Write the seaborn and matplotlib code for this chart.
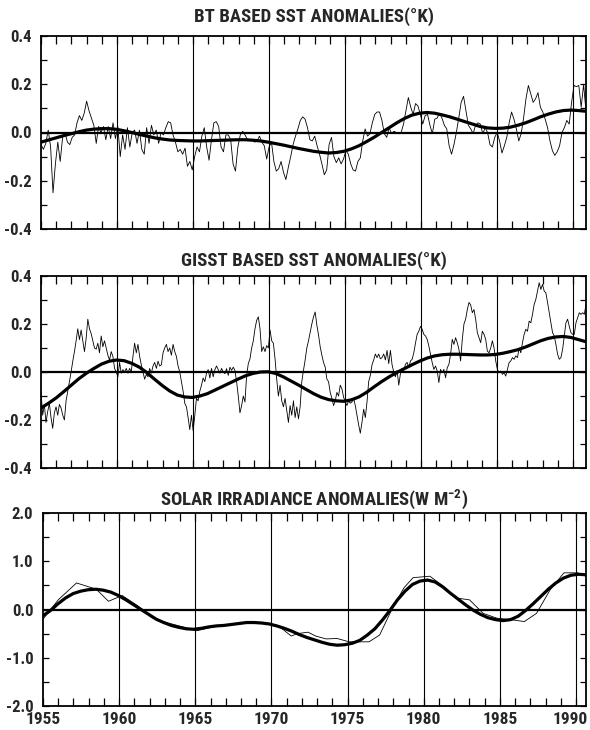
import numpy as np
import pandas as pd
import matplotlib
matplotlib.use("Agg")
import matplotlib.pyplot as plt
from matplotlib import font_manager
from matplotlib.ticker import MultipleLocator, FormatStrFormatter
from matplotlib.transforms import ScaledTranslation
import seaborn as sns

# ---------------------------------------------------------------- data
# BT based SST anomalies (K), roughly bimonthly from 1955 to the end of 1990
bt_sst = [
    -0.05, -0.07, -0.045, 0.01, -0.06, -0.25, -0.13, -0.04, -0.12, -0.02,
    0.0, -0.04, -0.05, -0.02, -0.01, 0.04, 0.07, 0.05, 0.08, 0.13,
    0.09, 0.06, 0.03, -0.045, 0.025, 0.0, 0.025, -0.03, 0.025, -0.025,
    0.04, -0.025, 0.025, -0.1, -0.01, -0.07, 0.02, -0.06, 0.0, 0.01,
    -0.045, 0.01, -0.07, -0.09, 0.02, -0.045, 0.03, -0.01, 0.01, -0.045,
    0.0, -0.01, 0.02, 0.045, 0.04, -0.01, -0.04, -0.08, -0.07, -0.09,
    -0.065, -0.14, -0.12, -0.155, -0.1, -0.06, -0.08, -0.015, 0.02, -0.06,
    -0.115, -0.03, 0.04, 0.045, 0.025,
    -0.06, -0.08, -0.01, -0.01, -0.03, -0.13, -0.16, -0.06, -0.01, 0.005,
    -0.01, -0.03, -0.03, -0.03, -0.04, -0.035, -0.015, -0.04, -0.055, -0.11,
    -0.06, -0.04, -0.12, -0.16, -0.15, -0.12, -0.165, -0.195, -0.145, -0.1,
    -0.05, -0.015, 0.015, 0.05, 0.065, 0.055, 0.02, -0.03, -0.035, -0.015,
    -0.055, -0.09, -0.13, -0.175, -0.155, -0.05, -0.02, -0.1, -0.125, -0.105,
    -0.13, -0.11, -0.075, -0.09, -0.13, -0.155, -0.16, -0.12, -0.105, -0.035,
    0.015, -0.015, -0.005, 0.04, 0.075, 0.085, 0.085, 0.05, -0.005, -0.02,
    0.02, -0.005, 0.005,
    0.0, -0.005, 0.0, 0.035, 0.09, 0.145, 0.105, 0.075, 0.12, 0.11,
    0.075, 0.035, 0.07, 0.075, 0.03, -0.005, 0.055, 0.06, 0.08, 0.06,
    0.03, 0.015, -0.055, -0.09, -0.05, 0.0, 0.06, 0.125, 0.15, 0.09,
    0.03, 0.015, -0.005, 0.03, 0.04, 0.035, -0.005, 0.02, 0.0, -0.05,
    -0.06, -0.02, 0.0, -0.035, -0.085, -0.055, -0.02, 0.04, 0.085, 0.055,
    0.015, -0.035, -0.005, 0.06, 0.14, 0.195, 0.16, 0.125, 0.14, 0.165,
    0.105, 0.085, 0.055, 0.02, -0.035, -0.075, -0.095, -0.08, -0.055, 0.0,
    0.02, 0.05, 0.035, 0.125, 0.195, 0.19, 0.195, 0.105, 0.2, 0.085,
]

# low-pass filtered BT anomalies, half-yearly
bt_smooth = [
    -0.04, -0.031, -0.022, -0.013, -0.005, 0.003, 0.01, 0.014, 0.016, 0.016,
    0.013, 0.007, 0.0, -0.008, -0.015, -0.022, -0.027, -0.031, -0.033, -0.034,
    -0.035, -0.035, -0.034, -0.033, -0.032, -0.031, -0.03, -0.03, -0.032, -0.035,
    -0.04, -0.046, -0.052, -0.059, -0.066, -0.072, -0.078, -0.082, -0.085, -0.083,
    -0.078, -0.068, -0.055, -0.038, -0.02, 0.0, 0.02, 0.04, 0.058, 0.072,
    0.08, 0.083, 0.08, 0.073, 0.065, 0.055, 0.045, 0.035, 0.025, 0.019,
    0.017, 0.018, 0.022, 0.03, 0.04, 0.052, 0.065, 0.076, 0.085, 0.091,
    0.093, 0.091, 0.088,
]

# GISST based SST anomalies (K), roughly every 40 days
gisst_sst = [
    -0.08, -0.18, -0.135, -0.21, -0.165, -0.13, -0.19, -0.235, -0.17, -0.145,
    -0.18, -0.135, -0.15, -0.18, -0.2, -0.12, -0.08, -0.04, 0.0, 0.045,
    0.085, 0.13, 0.18, 0.135, 0.175, 0.13, 0.085, 0.14, 0.22, 0.18,
    0.16, 0.13, 0.1, 0.095, 0.12, 0.08, 0.15, 0.105, 0.13, 0.1,
    0.07, 0.05, 0.085, 0.065, 0.015, 0.0, -0.02, 0.04, -0.005, 0.01,
    0.0, 0.015, -0.005, 0.015, 0.0, 0.065, 0.12, 0.08, 0.115, 0.065,
    0.03, 0.0, -0.03, -0.01, -0.02, 0.015, -0.005, 0.025, 0.04, 0.015,
    0.045, 0.025, 0.03, 0.08, 0.1, 0.115, 0.085, 0.1, 0.07, 0.115,
    0.085, 0.065, 0.025, 0.0, -0.04, -0.08, -0.13, -0.145, -0.19, -0.24,
    -0.18, -0.245, -0.18, -0.11, -0.12, -0.08, -0.055, -0.025, -0.04, -0.005,
    0.01, -0.025, 0.015, -0.02, 0.01, 0.025, 0.01, -0.005, 0.015, 0.0,
    -0.007, 0.014, -0.014, 0.02, 0.007, 0.02, 0.007, -0.04, -0.1, -0.17,
    -0.14, -0.1, -0.125, -0.014, 0.035, 0.055, 0.1, 0.13, 0.18, 0.215,
    0.23, 0.18, 0.085, 0.105, 0.085, 0.11, 0.1, 0.175, 0.13, 0.12,
    0.055, -0.03, -0.1, -0.055, -0.12, -0.145, -0.11, -0.16, -0.21, -0.14,
    -0.18, -0.12, -0.19, -0.145, -0.195, -0.145, -0.04, 0.007, 0.05, 0.1,
    0.13, 0.165, 0.2, 0.23, 0.25, 0.195, 0.155, 0.105, 0.07, 0.04,
    0.02, -0.03, -0.04, -0.085, -0.11, -0.14, -0.12, -0.085, -0.1, -0.055,
    -0.07, -0.105, -0.125, -0.14, -0.12, -0.13, -0.125, -0.11, -0.14, -0.18,
    -0.22, -0.255, -0.21, -0.155, -0.19, -0.125, -0.04, -0.014, 0.03, 0.05,
    0.075, 0.06, 0.075, 0.055, 0.06, 0.075, 0.05, 0.09, 0.035, 0.09,
    0.03, 0.0, -0.02, 0.007, -0.055, -0.007, 0.014, 0.007,
    0.032, 0.04, 0.018, 0.046, 0.053, 0.08, 0.12, 0.157, 0.17, 0.19,
    0.178, 0.157, 0.15, 0.136, 0.108, 0.074, 0.039, 0.011, 0.025, 0.004,
    -0.044, 0.011, -0.003, 0.011, -0.024, 0.018, 0.032, 0.074, 0.136, 0.115,
    0.143, 0.122, 0.094, 0.046, 0.136, 0.2, 0.22, 0.26, 0.29, 0.28,
    0.247, 0.26, 0.22, 0.164, 0.143, 0.122, 0.17, 0.157, 0.136, 0.087,
    0.08, 0.1, 0.13, 0.1, 0.046, 0.011, -0.003, 0.004, -0.01, -0.003,
    -0.017, 0.011, 0.039, 0.046, 0.06, 0.053, 0.067, 0.06, 0.1, 0.08,
    0.122, 0.157, 0.178, 0.17, 0.212, 0.205, 0.24, 0.282, 0.303, 0.337,
    0.372, 0.344, 0.365, 0.337, 0.33, 0.29, 0.247, 0.205, 0.164, 0.15,
    0.115, 0.074, 0.053, 0.06, 0.094, 0.15, 0.205, 0.22, 0.19, 0.164,
    0.157, 0.157, 0.205, 0.226, 0.247, 0.24, 0.247, 0.24, 0.282,
]

# low-pass filtered GISST anomalies, half-yearly
gisst_smooth = [
    -0.15, -0.13, -0.108, -0.082, -0.055, -0.028, -0.005, 0.015, 0.033, 0.045,
    0.05, 0.047, 0.036, 0.02, -0.003, -0.03, -0.056, -0.079, -0.096, -0.104,
    -0.106, -0.1, -0.09, -0.075, -0.06, -0.045, -0.03, -0.016, -0.006, 0.0,
    0.001, -0.006, -0.02, -0.037, -0.054, -0.072, -0.09, -0.105, -0.115, -0.12,
    -0.122, -0.116, -0.104, -0.085, -0.062, -0.04, -0.02, -0.002, 0.014, 0.03,
    0.045, 0.058, 0.067, 0.072, 0.074, 0.074, 0.073, 0.072, 0.071, 0.071,
    0.073, 0.078, 0.085, 0.093, 0.104, 0.117, 0.13, 0.14, 0.146, 0.148,
    0.144, 0.135, 0.126,
]

# solar irradiance anomalies (W m-2)
solar_years = [
    1955.0, 1956.0, 1957.2, 1958.5, 1959.3, 1960.2, 1961.2, 1962.1, 1963.1, 1964.3,
    1965.1, 1966.2, 1967.3, 1968.6, 1969.8, 1970.5, 1971.3, 1971.7, 1972.4, 1972.9,
    1973.6, 1974.3, 1975.1, 1976.4, 1977.1, 1977.9, 1978.7, 1979.3, 1980.4, 1981.2,
    1982.1, 1983.0, 1983.9, 1984.8, 1985.7, 1986.6, 1987.4, 1988.3, 1989.2, 1990.1,
    1990.65,
]
solar_values = [
    -0.2, 0.2, 0.55, 0.42, 0.17, 0.29, 0.08, -0.16, -0.27, -0.37,
    -0.44, -0.36, -0.32, -0.27, -0.29, -0.35, -0.55, -0.5, -0.47, -0.55,
    -0.61, -0.6, -0.67, -0.67, -0.53, 0.0, 0.45, 0.66, 0.69, 0.5,
    0.24, 0.2, -0.08, -0.18, -0.21, -0.25, -0.08, 0.41, 0.76, 0.76,
    0.69,
]

# low-pass filtered solar anomalies, half-yearly
solar_smooth = [
    -0.13, -0.02, 0.12, 0.24, 0.33, 0.38, 0.41, 0.42, 0.4, 0.36,
    0.29, 0.2, 0.1, 0.0, -0.1, -0.2, -0.27, -0.33, -0.37, -0.4,
    -0.41, -0.39, -0.36, -0.34, -0.33, -0.31, -0.29, -0.27, -0.27, -0.28,
    -0.3, -0.34, -0.39, -0.45, -0.52, -0.58, -0.63, -0.68, -0.72, -0.74,
    -0.73, -0.7, -0.64, -0.53, -0.4, -0.22, -0.02, 0.2, 0.38, 0.52,
    0.59, 0.61, 0.57, 0.47, 0.34, 0.22, 0.1, -0.01, -0.1, -0.17,
    -0.21, -0.23, -0.21, -0.14, -0.02, 0.12, 0.27, 0.42, 0.55, 0.65,
    0.71, 0.73, 0.72,
]

titles = [
    "BT BASED SST ANOMALIES(\u00b0K)",
    "GISST BASED SST ANOMALIES(\u00b0K)",
    r"SOLAR IRRADIANCE ANOMALIES(W M$^{\mathbf{-2}}$)",
]
year_start, year_end = 1955.0, 1990.85
year_ticks = [1955, 1960, 1965, 1970, 1975, 1980, 1985, 1990]

# ---------------------------------------------------------------- style
sns.set_theme(style="ticks")


def pick_narrow_font():
    """Return (family, stretch, found) for a condensed bold sans face."""
    entries = font_manager.fontManager.ttflist
    preferred = ["Liberation Sans Narrow", "Arial Narrow", "Roboto Condensed",
                 "Open Sans Condensed", "DejaVu Sans Condensed", "Noto Sans Condensed"]
    names = {f.name for f in entries}
    for p in preferred:
        if p in names:
            return p, "normal", True
    for f in entries:
        if ("Narrow" in f.name or "Condensed" in f.name) and "Sans" in f.name:
            return f.name, "normal", True
    for f in entries:
        st = f.stretch
        if isinstance(st, str) and "condensed" in st and "Sans" in f.name:
            return f.name, st, True
        if isinstance(st, (int, float)) and st < 500 and "Sans" in f.name:
            return f.name, st, True
    return "Liberation Sans", "normal", False


FONT, STRETCH, NARROW = pick_narrow_font()
plt.rcParams["font.family"] = [FONT, "DejaVu Sans"]
plt.rcParams["font.weight"] = "bold"
plt.rcParams["font.stretch"] = STRETCH
plt.rcParams["axes.unicode_minus"] = False
plt.rcParams["mathtext.fontset"] = "custom"
plt.rcParams["mathtext.rm"] = FONT + ":bold"
plt.rcParams["mathtext.bf"] = FONT + ":bold"

TITLE_SIZE = 13.5 if NARROW else 10.5
YLAB_SIZE = 12 if NARROW else 9.5
XLAB_SIZE = 12.5 if NARROW else 10.5


def series_frame(t, v):
    return pd.DataFrame({"year": np.asarray(t, float), "value": np.asarray(v, float)})


def draw_panel(ax, raw, smooth, xlim, ylim, major, minor, show_years):
    sns.lineplot(data=raw, x="year", y="value", ax=ax, color="black",
                 lw=0.6, estimator=None, sort=False)
    sns.lineplot(data=smooth, x="year", y="value", ax=ax, color="black",
                 lw=2.3, estimator=None, sort=False)
    ax.axhline(0.0, color="black", lw=1.6, zorder=1)
    for yr in year_ticks[1:]:
        ax.axvline(yr, color="black", lw=0.8, zorder=1)
    ax.set_xlim(*xlim)
    ax.set_ylim(*ylim)
    ax.set_xlabel("")
    ax.set_ylabel("")
    ax.xaxis.set_major_locator(MultipleLocator(5))
    ax.xaxis.set_minor_locator(MultipleLocator(1))
    ax.yaxis.set_major_locator(MultipleLocator(major))
    ax.yaxis.set_minor_locator(MultipleLocator(minor))
    ax.yaxis.set_major_formatter(FormatStrFormatter("%.1f"))
    ax.tick_params(axis="x", which="both", direction="in", top=True, bottom=True,
                   length=6, width=0.9, color="black", labelbottom=show_years,
                   labelsize=XLAB_SIZE, pad=4)
    ax.tick_params(axis="y", which="both", direction="in", left=True, right=True,
                   length=4, width=0.9, color="black", labelsize=YLAB_SIZE, pad=7)
    for lab in ax.get_xticklabels() + ax.get_yticklabels():
        lab.set_fontweight("bold")
    for sp in ax.spines.values():
        sp.set_visible(True)
        sp.set_color("black")
        sp.set_linewidth(1.3)


fig = plt.figure(figsize=(5.9, 7.3), dpi=100)
W, H = 590.0, 730.0
ax1 = fig.add_axes([41 / W, 1 - 229 / H, 545 / W, 193 / H])
ax2 = fig.add_axes([41 / W, 1 - 468 / H, 545 / W, 192 / H])
ax3 = fig.add_axes([43 / W, 1 - 706 / H, 543 / W, 193 / H])

t_bt = np.linspace(year_start, year_end, len(bt_sst))
t_gi = np.linspace(year_start, year_end, len(gisst_sst))
t_sm = np.linspace(year_start, year_end, len(bt_smooth))
t_sm_solar = np.linspace(year_start, 1990.65, len(solar_smooth))

draw_panel(ax1, series_frame(t_bt, bt_sst), series_frame(t_sm, bt_smooth),
           (year_start, year_end), (-0.4, 0.4), 0.2, 0.1, False)
draw_panel(ax2, series_frame(t_gi, gisst_sst), series_frame(t_sm, gisst_smooth),
           (year_start, year_end), (-0.4, 0.4), 0.2, 0.1, False)
draw_panel(ax3, series_frame(solar_years, solar_values),
           series_frame(t_sm_solar, solar_smooth),
           (year_start, 1990.65), (-2.0, 2.0), 1.0, 0.5, True)
ax3.set_xticks(year_ticks)
ax3.set_xticklabels([str(y) for y in year_ticks], fontweight="bold")
# keep the last year label inside the figure edge
last = ax3.get_xticklabels()[-1]
last.set_transform(last.get_transform()
                   + ScaledTranslation(-4 / 72, 0, fig.dpi_scale_trans))

for ty, title in zip([1 - 17 / H, 1 - 261 / H, 1 - 500 / H], titles):
    fig.text(0.532, ty, title, ha="center", va="center",
             fontsize=TITLE_SIZE, fontweight="bold")

fig.savefig("out.png", dpi=100)
